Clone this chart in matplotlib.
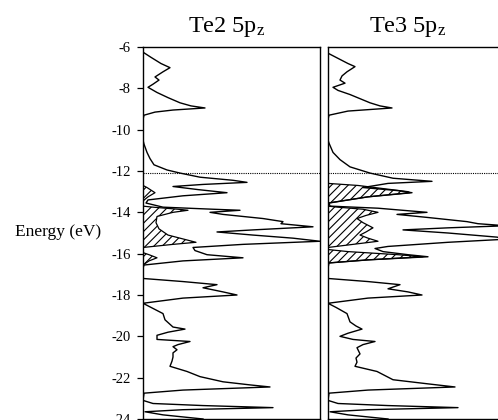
import matplotlib
matplotlib.use("Agg")
import matplotlib.pyplot as plt

plt.rcParams["font.family"] = ["Liberation Serif", "DejaVu Serif"]
plt.rcParams["mathtext.fontset"] = "custom"
plt.rcParams["mathtext.rm"] = "Liberation Serif"
plt.rcParams["mathtext.it"] = "Liberation Serif:italic"
plt.rcParams["axes.unicode_minus"] = False
plt.rcParams["hatch.linewidth"] = 0.8

# Projected Te 5pz densities of states (arbitrary units) versus energy (eV)
te2_energy = [-6.0, -6.25, -6.5, -6.8, -7.0, -7.2, -7.45, -7.6, -7.8, -7.95, -8.2, -8.45,
              -8.7, -8.85, -8.95, -9.05, -9.15, -9.3, -9.5, -10.5, -10.7, -11.1, -11.4,
              -11.7, -11.95, -12.1, -12.3, -12.45, -12.55, -12.65, -12.75, -12.9, -13.05,
              -13.2, -13.4, -13.55, -13.75, -13.85, -13.9, -14.0, -14.1, -14.3, -14.45,
              -14.55, -14.7, -14.85, -14.95, -15.1, -15.25, -15.4, -15.55, -15.7, -15.85,
              -16.05, -16.2, -16.35, -16.55, -16.7, -17.2, -17.35, -17.5, -17.65, -17.85,
              -18.0, -18.15, -18.4, -18.6, -18.9, -19.2, -19.55, -19.65, -19.8, -19.95,
              -20.15, -20.25, -20.4, -20.5, -20.65, -20.8, -21.0, -21.2, -21.45, -21.7,
              -21.95, -22.2, -22.35, -22.45, -22.6, -22.75, -23.1, -23.25, -23.35, -23.45,
              -23.55, -23.65, -23.8, -24.0]
te2_dos = [0, 0, 8, 18, 27, 20, 12, 16, 10, 5, 14, 25,
           37, 48, 62, 30, 12, 1, 0, 0, 1, 4, 7,
           11, 24, 37, 57, 90, 104, 60, 30, 55, 84,
           40, 5, 3, 20, 70, 97, 67, 80, 120, 140,
           138, 170, 110, 74, 110, 150, 177, 100, 50, 52,
           64, 100, 40, 1, 0, 0, 40, 74, 60, 80,
           94, 40, 0, 8, 20, 22, 30, 42, 25, 14,
           14, 47, 35, 30, 34, 30, 30, 29, 27, 44,
           57, 80, 107, 127, 40, 1, 0, 10, 60, 130,
           40, 2, 20, 60]

te2_fill_energy = [-12.7, -12.8, -13.05, -13.25, -13.45, -13.7, -13.75, -13.85, -13.9, -14.0,
                   -14.2, -14.5, -14.8, -15.1, -15.25, -15.45, -15.55, -15.7, -15.95, -16.05,
                   -16.2, -16.35, -16.55]
te2_fill_dos = [0, 4, 12, 5, 0, 0, 10, 35, 45, 30,
                14, 13, 16, 25, 37, 53, 30, 0, 0, 6,
                14, 6, 0]

te3_energy = [-6.0, -6.3, -6.55, -6.8, -6.95, -7.2, -7.4, -7.6, -7.75, -7.95, -8.1, -8.3,
              -8.5, -8.7, -8.85, -8.95, -9.1, -9.3, -9.5, -10.5, -10.65, -11.1, -11.45,
              -11.8, -12.1, -12.35, -12.5, -12.6, -12.8, -12.95, -13.05, -13.25, -13.55,
              -13.7, -13.8, -14.0, -14.1, -14.25, -14.45, -14.55, -14.65, -14.75, -14.85,
              -15.0, -15.2, -15.3, -15.45, -15.65, -15.75, -15.9, -16.05, -16.15, -16.3,
              -16.45, -16.7, -17.2, -17.35, -17.5, -17.7, -17.85, -18.0, -18.15, -18.4,
              -18.6, -18.9, -19.3, -19.5, -19.65, -19.85, -20.0, -20.15, -20.25, -20.4,
              -20.55, -20.85, -21.05, -21.25, -21.45, -21.7, -22.1, -22.3, -22.45, -22.6,
              -22.75, -23.1, -23.25, -23.35, -23.45, -23.55, -23.65, -23.8, -24.0]
te3_dos = [0, 0, 10, 20, 27, 19, 14, 12, 17, 5, 10, 22,
           32, 42, 52, 64, 20, 1, 0, 0, 1, 5, 12,
           22, 42, 65, 104, 60, 35, 70, 84, 40, 1,
           2, 50, 99, 69, 100, 139, 150, 178, 120, 75,
           120, 169, 178, 120, 60, 47, 55, 80, 100, 40,
           1, 0, 0, 40, 72, 60, 80, 94, 40, 0,
           8, 19, 22, 28, 34, 20, 12, 25, 47, 35,
           29, 32, 28, 29, 27, 49, 65, 100, 127, 40,
           1, 0, 10, 60, 130, 40, 2, 20, 60]

te3_fill_energy = [-12.6, -12.7, -12.85, -13.0, -13.05, -13.25, -13.55, -13.7, -13.75, -13.85,
                   -14.0, -14.15, -14.3, -14.5, -14.75, -14.95, -15.1, -15.25, -15.4, -15.55,
                   -15.7, -15.8, -15.9, -16.05, -16.15, -16.3, -16.45]
te3_fill_dos = [0, 30, 55, 80, 82, 40, 0, 0, 10, 35,
                50, 38, 29, 35, 45, 38, 32, 40, 50, 25,
                0, 0, 20, 70, 95, 40, 0]

fermi_level = -12.1
energy_ticks = [-6, -8, -10, -12, -14, -16, -18, -20, -22, -24]
panel_titles = ["Te2 5p$_{\\mathrm{z}}$", "Te3 5p$_{\\mathrm{z}}$"]

W, H = 498, 420
fig = plt.figure(figsize=(W / 100, H / 100), dpi=100)
ax_l = fig.add_axes([143 / W, 1 / H, 177 / W, 372 / H])
ax_r = fig.add_axes([328 / W, 1 / H, 177 / W, 372 / H])

panels = [
    (ax_l, te2_energy, te2_dos, te2_fill_energy, te2_fill_dos),
    (ax_r, te3_energy, te3_dos, te3_fill_energy, te3_fill_dos),
]
for ax, e, d, fe, fd in panels:
    ax.fill_betweenx(fe, 0, fd, facecolor="white", edgecolor="black",
                     hatch="////", linewidth=0.9)
    ax.plot(d, e, color="black", lw=1.0)
    ax.axhline(fermi_level, color="black", lw=0.8, linestyle=(0, (1, 1)))
    ax.set_xlim(0, 177)
    ax.set_ylim(-24, -6)
    ax.set_xticks([])
    for s in ax.spines.values():
        s.set_linewidth(1.0)

ax_l.set_yticks(energy_ticks)
ax_l.set_yticklabels([str(t) for t in energy_ticks])
ax_l.tick_params(axis="y", direction="out", length=4, width=0.9, pad=5, labelsize=10.5)
ax_r.set_yticks([])

fig.text(226.5 / W, 1 - 32 / H, panel_titles[0], ha="center", va="baseline", fontsize=17.5)
fig.text(407.5 / W, 1 - 32 / H, panel_titles[1], ha="center", va="baseline", fontsize=17.5)
fig.text(58.5 / W, 1 - 232 / H, "Energy (eV)", ha="center", va="center", fontsize=12.5)

fig.savefig("out.png", dpi=100)
